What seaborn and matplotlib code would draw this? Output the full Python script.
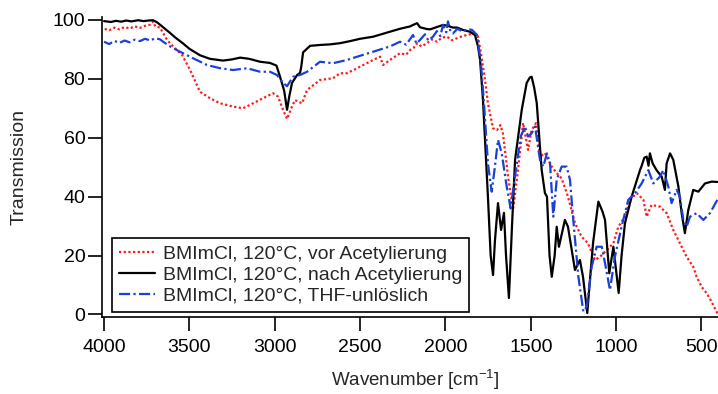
import numpy as np
import pandas as pd
import seaborn as sns
import matplotlib
matplotlib.use("Agg")
import matplotlib.pyplot as plt

# ============================
# DATA
# ============================
LABELS = [
    "BMImCl, 120°C, vor Acetylierung",
    "BMImCl, 120°C, nach Acetylierung",
    "BMImCl, 120°C, THF-unlöslich",
]

red_wn = [4000, 3970, 3940, 3910, 3880, 3850, 3820, 3790, 3760, 3730, 3713, 3700,
          3672, 3631, 3596, 3543, 3496, 3438, 3379, 3320, 3244, 3186, 3127, 3069,
          3010, 2981, 2951, 2928, 2899, 2881, 2864, 2840, 2811, 2735, 2659, 2618,
          2577, 2518, 2424, 2383, 2366, 2325, 2266, 2230, 2207, 2185, 2166, 2140,
          2108, 2080, 2049, 2020, 1991, 1960, 1932, 1900, 1874, 1838, 1809, 1792,
          1768, 1751, 1721, 1698, 1678, 1663, 1633, 1604, 1575, 1545, 1516, 1495,
          1469, 1446, 1417, 1377, 1348, 1319, 1282, 1241, 1202, 1165, 1124, 1094,
          1055, 1016, 987, 948, 919, 879, 840, 821, 805, 792, 743, 704, 665, 626,
          587, 548, 528, 499, 469, 440, 407]
red_t = [97.0, 96.5, 97.4, 96.8, 97.6, 97.1, 97.8, 97.3, 98.0, 98.4, 99.5, 97.8,
         97.4, 93.2, 91.0, 88.1, 83.0, 75.6, 73.4, 71.7, 70.6, 70.0, 71.7, 73.4,
         75.1, 74.0, 69.4, 66.4, 70.6, 72.8, 72.3, 71.7, 76.2, 79.6, 80.2, 81.9,
         81.9, 83.6, 86.4, 87.5, 84.7, 86.4, 88.7, 88.2, 89.8, 90.6, 92.1, 91.0,
         92.1, 93.4, 92.6, 94.0, 94.3, 93.1, 93.8, 94.5, 94.9, 95.4, 94.3, 88.7,
         79.6, 71.7, 63.2, 62.6, 64.3, 61.5, 46.8, 35.5, 49.0, 65.0, 55.9, 62.6,
         65.0, 53.6, 54.8, 50.2, 48.0, 46.2, 40.0, 31.0, 26.4, 24.2, 18.5, 19.6,
         21.9, 24.2, 29.8, 33.2, 38.9, 41.2, 38.9, 33.2, 35.5, 37.2, 36.6, 34.4,
         28.7, 24.2, 19.6, 16.2, 12.8, 9.4, 7.2, 4.3, 0.4]

black_wn = [4000, 3960, 3930, 3900, 3870, 3840, 3800, 3770, 3740, 3713, 3690, 3660,
            3620, 3580, 3537, 3500, 3438, 3380, 3303, 3250, 3203, 3150, 3086, 3028,
            2990, 2969, 2945, 2928, 2915, 2899, 2869, 2852, 2845, 2834, 2793, 2735,
            2676, 2618, 2559, 2500, 2424, 2383, 2325, 2266, 2207, 2190, 2166, 2149,
            2108, 2090, 2049, 2014, 1985, 1956, 1932, 1897, 1856, 1827, 1809, 1797,
            1780, 1751, 1735, 1721, 1710, 1692, 1674, 1657, 1645, 1628, 1610, 1592,
            1553, 1524, 1505, 1495, 1480, 1465, 1436, 1417, 1405, 1390, 1377, 1360,
            1348, 1335, 1300, 1282, 1241, 1212, 1194, 1169, 1150, 1135, 1104, 1080,
            1065, 1040, 1016, 985, 968, 948, 909, 860, 850, 835, 821, 810, 802, 786,
            763, 733, 714, 704, 684, 665, 635, 616, 597, 577, 548, 518, 479, 440, 407]
black_t = [99.6, 99.3, 99.7, 99.4, 99.8, 99.5, 99.9, 99.6, 99.8, 99.9, 99.2, 97.8,
           95.9, 93.9, 92.0, 90.2, 88.0, 86.8, 86.2, 86.6, 87.2, 86.8, 85.8, 85.4,
           84.5, 80.7, 76.0, 69.5, 74.0, 78.6, 81.3, 82.0, 84.0, 89.0, 91.2, 91.5,
           91.7, 92.1, 92.8, 93.6, 94.3, 95.0, 96.0, 97.0, 97.8, 98.3, 98.9, 97.5,
           96.9, 96.8, 97.6, 98.3, 98.0, 97.4, 97.4, 96.6, 96.0, 94.9, 91.0, 86.4,
           72.8, 40.0, 20.0, 13.4, 25.0, 37.8, 28.7, 34.5, 20.0, 5.6, 30.0, 52.5,
           69.4, 78.6, 80.5, 80.7, 77.0, 71.8, 49.0, 41.2, 40.0, 20.0, 12.8, 20.0,
           29.8, 23.0, 32.1, 29.8, 15.1, 18.5, 12.8, 0.5, 14.0, 24.3, 38.3, 35.0,
           32.1, 14.0, 23.0, 7.3, 20.0, 31.0, 40.0, 49.0, 50.5, 53.2, 53.6, 50.5, 54.7, 51.3,
           49.0, 46.8, 42.3, 51.3, 54.7, 52.5, 43.4, 34.4, 27.6, 35.5, 42.3, 41.7, 44.5, 45.1, 45.0]

blue_wn = [4000, 3970, 3940, 3910, 3880, 3850, 3820, 3790, 3760, 3730, 3700, 3672,
           3654, 3613, 3555, 3479, 3397, 3320, 3244, 3162, 3086, 3028, 2987, 2951,
           2928, 2893, 2852, 2811, 2735, 2659, 2577, 2518, 2424, 2325, 2266, 2230,
           2190, 2170, 2149, 2120, 2100, 2073, 2050, 2030, 2014, 1995, 1985, 1970,
           1956, 1930, 1897, 1870, 1844, 1815, 1792, 1774, 1751, 1729, 1710, 1692,
           1670, 1641, 1618, 1587, 1559, 1534, 1516, 1495, 1475, 1446, 1427, 1405,
           1387, 1368, 1348, 1319, 1290, 1270, 1251, 1221, 1192, 1172, 1143, 1114,
           1084, 1065, 1036, 1007, 968, 929, 889, 850, 821, 811, 782, 743, 724, 694,
           675, 645, 626, 606, 587, 567, 528, 489, 450, 407]
blue_t = [92.6, 91.8, 92.9, 92.2, 93.0, 92.4, 93.3, 92.8, 93.6, 93.0, 93.8, 93.4,
          92.6, 91.0, 89.2, 87.0, 84.7, 83.6, 83.0, 83.6, 82.4, 82.4, 81.3, 78.6,
          77.5, 80.7, 81.3, 82.4, 85.8, 85.3, 86.4, 87.5, 89.2, 91.0, 92.6, 91.6,
          94.9, 92.0, 93.2, 95.1, 93.0, 94.3, 96.2, 94.5, 98.3, 95.8, 99.5, 96.0,
          95.4, 97.0, 96.0, 96.9, 96.6, 94.9, 85.3, 71.7, 51.3, 41.7, 50.2, 59.3,
          54.7, 43.4, 36.0, 49.0, 60.4, 63.8, 60.4, 61.5, 63.8, 52.5, 50.2, 54.7,
          51.3, 33.2, 45.7, 50.2, 50.2, 45.7, 32.1, 12.8, 1.0, 2.6, 16.2, 23.0,
          23.0, 17.4, 8.3, 19.6, 29.8, 38.9, 41.2, 44.5, 47.9, 49.0, 44.5, 46.8,
          49.0, 43.4, 37.8, 42.3, 40.0, 32.1, 29.8, 33.2, 34.4, 32.1, 34.4, 38.9]

X_TICKS = [4000, 3500, 3000, 2500, 2000, 1500, 1000, 500]
Y_TICKS = [0, 20, 40, 60, 80, 100]

# ============================
# STYLE
# ============================
sns.set_style("ticks")
plt.rcParams["font.family"] = ["Liberation Sans", "DejaVu Sans"]
plt.rcParams["mathtext.fontset"] = "custom"
plt.rcParams["mathtext.rm"] = "Liberation Sans"
plt.rcParams["mathtext.it"] = "Liberation Sans"

fig = plt.figure(figsize=(7.18, 3.94), dpi=100)
ax = fig.add_axes([0.1421, 0.1962, 0.8579, 0.7607])

sns.lineplot(x=red_wn, y=red_t, color="#ff1a1a", linestyle=(0, (1, 1.1)), lw=1.6,
             label=LABELS[0], estimator=None, ax=ax)
sns.lineplot(x=black_wn, y=black_t, color="black", linestyle="-", lw=1.6,
             label=LABELS[1], estimator=None, ax=ax)
sns.lineplot(x=blue_wn, y=blue_t, color="#1c3fd8", linestyle=(0, (5, 1.5, 1, 1.5)), lw=1.6,
             label=LABELS[2], estimator=None, ax=ax)

ax.set_xlim(4012, 403)
ax.set_ylim(-0.75, 101)
ax.set_xticks(X_TICKS)
ax.set_yticks(Y_TICKS)
ax.tick_params(axis="both", direction="out", length=10, width=1.2, labelsize=14,
               color="black", labelcolor="black")
ax.tick_params(axis="x", pad=6)
ax.tick_params(axis="y", pad=2)
for side in ["top", "right"]:
    ax.spines[side].set_visible(False)
for side in ["left", "bottom"]:
    ax.spines[side].set_linewidth(1.2)
    ax.spines[side].set_color("black")

ax.set_xlabel(r"Wavenumber [cm$^{-1}$]", fontsize=13.5)
ax.set_ylabel("Transmission", fontsize=14)
ax.xaxis.set_label_coords(0.508, -0.17)
ax.yaxis.set_label_coords(-0.12, 0.5)

leg = ax.legend(loc="lower left", bbox_to_anchor=(0.0157, 0.017), borderaxespad=0,
                fontsize=14, frameon=True, fancybox=False, framealpha=1,
                edgecolor="black", handlelength=1.9, handletextpad=0.4,
                labelspacing=0.18, borderpad=0.35)
leg.get_frame().set_linewidth(1.2)

plt.savefig("out.png", dpi=100)
plt.close()
